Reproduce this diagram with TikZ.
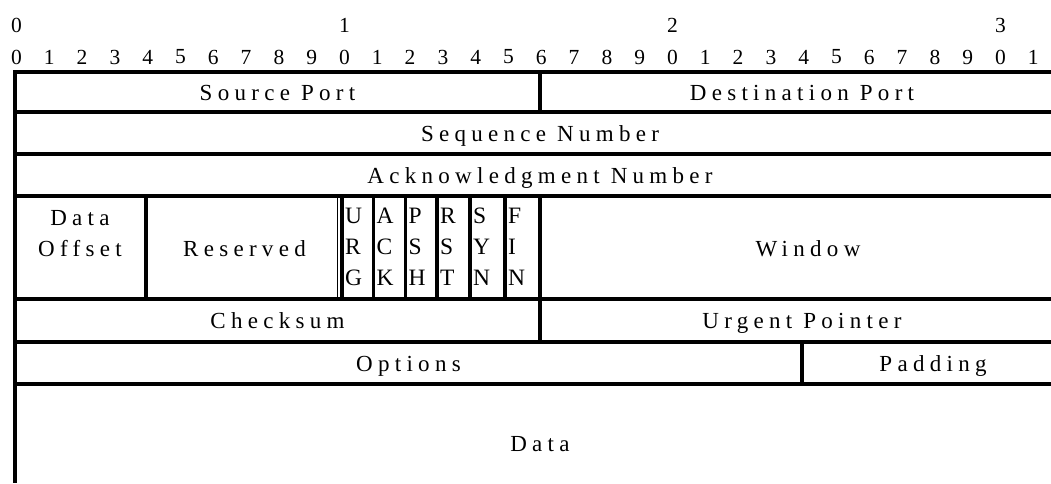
\documentclass[tikz,border=0pt]{standalone}
\usepackage{fontspec}
\setmainfont{Liberation Serif}
\newfontfamily\spacedserif[LetterSpace=23]{Liberation Serif}

\begin{document}
\begin{tikzpicture}[x=1pt,y=-1pt,
  rule/.style={line width=3.5pt},
  hairline/.style={line width=1.2pt},
  field/.style={font=\fontsize{23}{27}\selectfont\spacedserif, inner sep=0pt, anchor=base},
  bitnum/.style={font=\fontsize{21.5}{25}\selectfont, inner sep=0pt},
  flagtxt/.style={font=\fontsize{23.5}{31}\selectfont, inner sep=0pt, anchor=base west},
]
\useasboundingbox (0,0) rectangle (1051,483);

% bit numbering
\foreach \t in {0,1,2,3}
  \node[bitnum] (tens\t) at ({16.5+\t*10*32.8},25) {\t};
\foreach \i in {0,...,31}{
  \pgfmathtruncatemacro\d{mod(\i,10)}
  \node[bitnum] (bit\i) at ({16.5+\i*32.8},57) {\d};
}

% horizontal rules
\foreach \y in {72,112,154,196,299,342,384}
  \draw[rule] (13.25,\y) -- (1051,\y);

% left edge
\draw[rule] (15,70.25) -- (15,483);

% field dividers
\draw[rule] (540,72) -- (540,112);
\draw[rule] (146,196) -- (146,299);
\draw[hairline] (337.5,196) -- (337.5,299);
\foreach \x in {342,373.5,405.5,437,470,505}
  \draw[rule] (\x,196) -- (\x,299);
\draw[rule] (540,196) -- (540,342);
\draw[rule] (802,342) -- (802,384);

% field names
\node[field] (sport) at (277.5,100) {Source Port};
\node[field] (dport) at (802,100) {Destination Port};
\node[field] (seq)   at (540,141) {Sequence Number};
\node[field] (ack)   at (540,183) {Acknowledgment Number};
\node[field] (doff1) at (80,225) {Data};
\node[field] (doff2) at (80,256) {Offset};
\node[field] (resv)  at (244.5,256) {Reserved};
\node[field] (win)   at (808,256) {Window};
\node[field] (csum)  at (277.5,328.5) {Checksum};
\node[field] (urg)   at (802,328.5) {Urgent Pointer};
\node[field] (opts)  at (408.5,371) {Options};
\node[field] (pad)   at (933,371) {Padding};
\node[field] (data)  at (540,451) {Data};

% control flags, one letter per line
\foreach \x/\a/\b/\c [count=\k] in {342/U/R/G,373.5/A/C/K,405.5/P/S/H,437/R/S/T,470/S/Y/N,505/F/I/N}{
  \node[flagtxt] (flag\k a) at (\x+3,223) {\a};
  \node[flagtxt] (flag\k b) at (\x+3,254) {\b};
  \node[flagtxt] (flag\k c) at (\x+3,285) {\c};
}
\end{tikzpicture}
\end{document}
